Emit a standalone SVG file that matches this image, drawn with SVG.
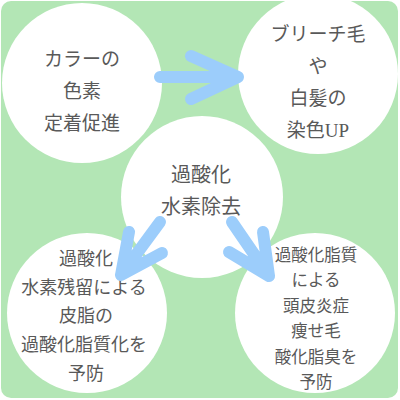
<svg xmlns="http://www.w3.org/2000/svg" width="400" height="400" viewBox="0 0 400 400">
<style>
.c{fill:#ffffff}
.t{font-family:"Liberation Serif","Noto Sans CJK JP",serif;fill:#595959;text-anchor:middle}
.a{stroke:#9ccdfb;stroke-width:12;stroke-linecap:round;stroke-linejoin:round;fill:none}
</style>
<rect x="1" y="1" width="397" height="397" rx="10" fill="#b3e6b5"/>
<g id="node-color">
<circle class="c" cx="82" cy="83" r="80"/>
<text class="t" font-size="19" x="82" y="66">カラーの</text>
<text class="t" font-size="19" x="82" y="98">色素</text>
<text class="t" font-size="19" x="82" y="130">定着促進</text>
</g>
<g id="node-bleach">
<circle class="c" cx="318" cy="74" r="80"/>
<text class="t" font-size="19" x="318" y="41">ブリーチ毛</text>
<text class="t" font-size="19" x="318" y="73">や</text>
<text class="t" font-size="19" x="318" y="105">白髪の</text>
<text class="t" font-size="19" x="318" y="137">染色UP</text>
</g>
<g id="node-center">
<circle class="c" cx="202" cy="197" r="81"/>
<text class="t" font-size="20" x="201" y="182">過酸化</text>
<text class="t" font-size="20" x="201" y="214">水素除去</text>
</g>
<g id="node-sebum">
<circle class="c" cx="87" cy="313" r="80"/>
<text class="t" font-size="18" x="86" y="265">過酸化</text>
<text class="t" font-size="18" x="84" y="294">水素残留による</text>
<text class="t" font-size="18" x="86" y="322">皮脂の</text>
<text class="t" font-size="18" x="84" y="351">過酸化脂質化を</text>
<text class="t" font-size="18" x="86" y="380">予防</text>
</g>
<g id="node-scalp">
<circle class="c" cx="315" cy="313" r="80"/>
<text class="t" font-size="16.5" x="316" y="261">過酸化脂質</text>
<text class="t" font-size="16.5" x="316" y="286">による</text>
<text class="t" font-size="16.5" x="316" y="312">頭皮炎症</text>
<text class="t" font-size="16.5" x="316" y="337">痩せ毛</text>
<text class="t" font-size="16.5" x="316" y="363">酸化脂臭を</text>
<text class="t" font-size="16.5" x="316" y="388">予防</text>
</g>
<g id="connectors">
<path class="a" d="M160 77 L238 77 M191 56 L238 77 L191 99"/>
<path class="a" d="M160 222 L121 275 M129 232 L121 275 L162 253"/>
<path class="a" d="M232 222 L269 276 M263 232 L269 276 L229 252"/>
</g>
</svg>
